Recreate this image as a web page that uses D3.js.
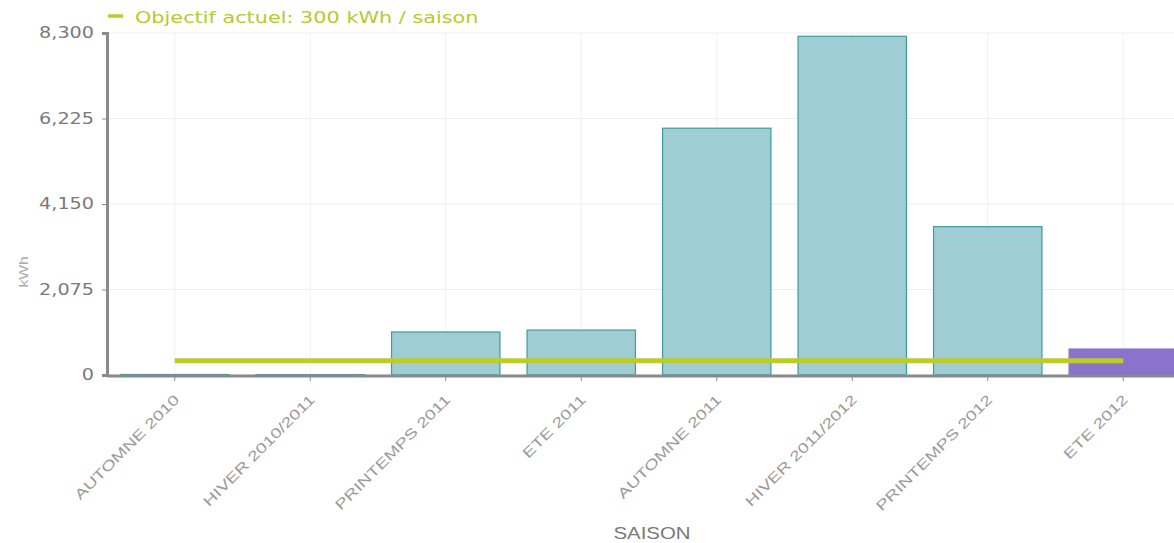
<!DOCTYPE html>
<html>
<head>
<meta charset="utf-8">
<script src="https://cdn.jsdelivr.net/npm/d3@7"></script>
<style>
  body { margin: 0; background: #fff; }
  svg { display: block; }
</style>
</head>
<body>
<div id="chart"></div>
<script>
// seasons and consumption (kWh)
const saisons = ['AUTOMNE 2010', 'HIVER 2010/2011', 'PRINTEMPS 2011', 'ETE 2011',
  'AUTOMNE 2011', 'HIVER 2011/2012', 'PRINTEMPS 2012', 'ETE 2012'];
const conso = [12, 10, 1045, 1090, 5990, 8220, 3600, 630];
const enCours = [false, false, false, false, false, false, false, true];
const objectif = 300;
const yTicks = [0, 2075, 4150, 6225, 8300];

const width = 1174;
const height = 543;
const margin = { top: 33, left: 107, bottom: 168 };
const plotBottom = height - margin.bottom;

// the original text is drawn a bit wider than the fonts we have
const stretch = 1.28;

const svg = d3.select('#chart')
  .append('svg')
  .attr('width', width)
  .attr('height', height);

const x = d3.scaleBand()
  .domain(saisons)
  .range([margin.left, margin.left + saisons.length * 135.5])
  .paddingInner(0.2)
  .paddingOuter(0.1);

const y = d3.scaleLinear()
  .domain([0, 8300])
  .range([plotBottom, margin.top]);

const cx = d => x(d) + x.bandwidth() / 2;

// grid
svg.append('g')
  .selectAll('line')
  .data(yTicks)
  .join('line')
  .attr('x1', margin.left)
  .attr('x2', width)
  .attr('y1', d => y(d))
  .attr('y2', d => y(d))
  .style('stroke', '#efefef');

svg.append('g')
  .selectAll('line')
  .data(saisons)
  .join('line')
  .attr('x1', cx)
  .attr('x2', cx)
  .attr('y1', margin.top)
  .attr('y2', plotBottom)
  .style('stroke', '#f1f1f1');

// bars
svg.append('g')
  .selectAll('rect')
  .data(saisons)
  .join('rect')
  .attr('x', d => x(d))
  .attr('width', x.bandwidth())
  .attr('y', (d, i) => y(conso[i]))
  .attr('height', (d, i) => plotBottom - y(conso[i]))
  .style('fill', (d, i) => enCours[i] ? '#8b73cc' : '#9ecdd4')
  .style('stroke', (d, i) => enCours[i] ? '#8b73cc' : '#3f9ba1')
  .style('stroke-width', 1.2);

// objective line
svg.append('line')
  .attr('x1', cx(saisons[0]))
  .attr('x2', cx(saisons[saisons.length - 1]))
  .attr('y1', y(objectif) - 2)
  .attr('y2', y(objectif) - 2)
  .style('stroke', '#bccd2b')
  .style('stroke-width', 5);

// axes
const yAxis = svg.append('g')
  .attr('transform', 'translate(' + margin.left + ',0)')
  .call(d3.axisLeft(y).tickValues(yTicks).tickSize(5).tickFormat(d3.format(',')));
yAxis.select('.domain').style('stroke', '#8a8a8a').style('stroke-width', 3);
yAxis.selectAll('.tick line').style('stroke', '#8a8a8a');
yAxis.selectAll('text')
  .attr('x', -13 / stretch)
  .attr('transform', 'scale(' + stretch + ',1)')
  .style('font-family', "'DejaVu Sans', Verdana, sans-serif")
  .style('font-size', '15px')
  .style('fill', '#7a7a7a');

const xAxis = svg.append('g')
  .attr('transform', 'translate(0,' + (plotBottom + 1) + ')')
  .call(d3.axisBottom(x).tickSize(5).tickSizeOuter(0));
xAxis.select('.domain')
  .attr('d', 'M' + margin.left + ',0H' + width)
  .style('stroke', '#8a8a8a')
  .style('stroke-width', 3);
xAxis.selectAll('.tick line').style('stroke', '#8a8a8a');
xAxis.selectAll('text')
  .attr('y', 0)
  .attr('dy', '0.35em')
  .attr('transform', 'translate(2,21) rotate(-45) scale(1.35,1)')
  .style('text-anchor', 'end')
  .style('font-family', "'Liberation Sans', Arial, sans-serif")
  .style('font-size', '14px')
  .style('fill', '#9a9a9a');

// axis titles
svg.append('text')
  .text('kWh')
  .attr('transform', 'translate(28,272) rotate(-90) scale(1.2,1)')
  .attr('text-anchor', 'middle')
  .style('font-family', "'Liberation Sans', Arial, sans-serif")
  .style('font-size', '13px')
  .style('fill', '#aaa');

svg.append('text')
  .text('SAISON')
  .attr('transform', 'translate(652,539) scale(1.2,1)')
  .attr('text-anchor', 'middle')
  .style('font-family', "'Liberation Sans', Arial, sans-serif")
  .style('font-size', '17px')
  .style('fill', '#7a7a7a');

// legend
svg.append('line')
  .attr('x1', 108)
  .attr('x2', 123)
  .attr('y1', 16)
  .attr('y2', 16)
  .style('stroke', '#bccd2b')
  .style('stroke-width', 3.5);

svg.append('text')
  .text('Objectif actuel: ' + objectif + ' kWh / saison')
  .attr('transform', 'translate(135,23) scale(' + (1.3) + ',1)')
  .style('font-family', "'DejaVu Sans', Verdana, sans-serif")
  .style('font-size', '16px')
  .style('fill', '#b6ca2c');
</script>
</body>
</html>
